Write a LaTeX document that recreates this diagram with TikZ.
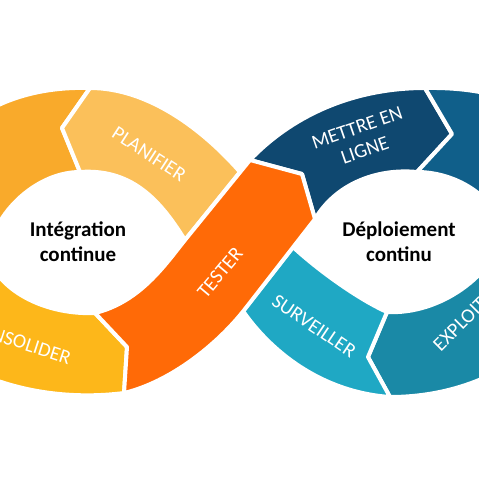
\documentclass[tikz,border=0pt]{standalone}
\usepackage{fontspec}
\setmainfont{Carlito}
\usepackage{xcolor}
\definecolor{coder}{HTML}{F9AA2B}
\definecolor{planifier}{HTML}{FBC05A}
\definecolor{consolider}{HTML}{FDB71A}
\definecolor{tester}{HTML}{FF6A07}
\definecolor{mettre}{HTML}{0F4870}
\definecolor{deployer}{HTML}{105F8A}
\definecolor{exploiter}{HTML}{1A89A6}
\definecolor{surveiller}{HTML}{1FA8C4}

\tikzset{
	band/.style={draw=white, line width=4pt, line join=round},
	bandtext/.style={text=white, font=\fontsize{20}{24}\selectfont, align=center, inner sep=0pt},
	looptext/.style={text=black, font=\bfseries\fontsize{21}{25}\selectfont, align=center}
}

\begin{document}
\begin{tikzpicture}[x=1pt, y=-1pt]
	\useasboundingbox (0,0) rectangle (479,479);
	\clip (0,0) rectangle (479,479);
	
	% left loop
	\draw[band, fill=coder] (90,88) -- (62,128) -- (80,172) .. controls (30,172) and (-16,225) .. (-10,262) -- (-100,300) .. controls (-110,180) and (-40,84) .. (90,88) -- cycle;
	\draw[band, fill=planifier] (90,88) -- (62,128) -- (80,172) .. controls (135,168) and (163,205) .. (185,240) -- (240,172) .. controls (205,132) and (150,88) .. (90,88) -- cycle;
	\draw[band, fill=consolider] (95,313) -- (127,347) -- (124,393) .. controls (30,405) and (-70,370) .. (-100,300) -- (-10,262) .. controls (5,295) and (50,315) .. (95,313) -- cycle;
	
	% right loop
	\draw[band, fill=mettre] (250,160) -- (302,174) -- (315,219) .. controls (335,185) and (375,168) .. (417,172) -- (452,134) -- (425,88) .. controls (350,88) and (290,118) .. (250,160) -- cycle;
	\draw[band, fill=deployer] (425,88) -- (452,134) -- (417,172) .. controls (450,172) and (490,190) .. (505,230) -- (590,230) .. controls (592,140) and (540,86) .. (425,88) -- cycle;
	\draw[band, fill=exploiter] (505,230) -- (590,230) .. controls (590,320) and (505,397) .. (390,397) -- (368,357) -- (387,312) .. controls (440,315) and (495,275) .. (505,230) -- cycle;
	\draw[band, fill=surveiller] (293,247) -- (243,311) .. controls (270,350) and (320,392) .. (390,397) -- (368,357) -- (387,312) .. controls (360,300) and (320,272) .. (293,247) -- cycle;
	
	% crossing
	\draw[band, fill=tester] (95,313) .. controls (140,302) and (165,265) .. (185,240) -- (250,160) -- (302,174) -- (315,219) -- (245,309) .. controls (217,345) and (170,382) .. (124,393) -- (127,347) -- cycle;
	
	\node[looptext] (integration) at (78,242) {Intégration\\continue};
	\node[looptext] (deploiement) at (399,242) {Déploiement\\continu};
	
	\node[bandtext, rotate=-33] (planifier) at (149,154) {PLANIFIER};
	\node[bandtext, rotate=-18] (consolider) at (20,342) {CONSOLIDER};
	\node[bandtext, rotate=50] (tester) at (220,273) {TESTER};
	\node[bandtext, rotate=19] (mettre) at (361,139) {METTRE EN\\LIGNE};
	\node[bandtext, rotate=-34] (surveiller) at (314,326) {SURVEILLER};
	\node[bandtext, rotate=45] (exploiter) at (467,317) {EXPLOITER};
\end{tikzpicture}
\end{document}
